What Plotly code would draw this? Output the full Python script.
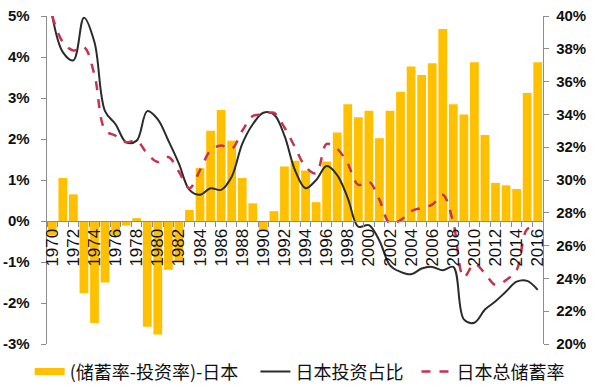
import plotly.graph_objects as go

years = [str(y) for y in range(1970, 2017)]

gap_pct = [-0.35, 1.05, 0.65, -1.76, -2.49, -1.5, -0.35, -0.11, 0.07, -2.58,
           -2.77, -1.19, -1.0, 0.27, 1.29, 2.2, 2.71, 1.96, 1.05, 0.43,
           -0.25, 0.24, 1.33, 1.47, 1.23, 0.46, 1.45, 2.16, 2.85, 2.53,
           2.69, 2.02, 2.69, 3.15, 3.77, 3.56, 3.85, 4.68, 2.85, 2.6,
           3.87, 2.1, 0.93, 0.87, 0.78, 3.12, 3.87]

invest_pct = [40.0, 37.8, 37.3, 39.9, 38.4, 34.2, 33.4, 32.3, 32.4, 34.2,
              33.7, 32.4, 31.0, 29.4, 29.1, 29.5, 29.4, 30.2, 32.2, 33.4,
              34.1, 34.0, 32.7, 30.6, 29.5, 30.0, 30.85, 30.3, 28.9, 27.15,
              27.25, 26.3, 24.8, 24.4, 24.25, 24.6, 24.7, 24.5, 24.7, 21.5,
              21.3, 22.1, 22.6, 23.2, 23.8, 23.85, 23.3]

saving_pct = [40.0, 38.4, 37.9, 38.1, 36.4, 33.05, 32.7, 32.3, 32.4, 31.6,
              31.1, 31.4, 30.5, 29.5, 30.6, 31.8, 32.1, 31.9, 33.0, 33.9,
              34.0, 34.1, 33.2, 32.0, 30.8, 30.4, 32.2, 31.9, 31.0, 29.7,
              29.9, 28.8, 27.35, 27.55, 28.1, 28.3, 28.5, 29.1, 27.4, 24.07,
              24.9, 24.3, 23.6, 23.9, 24.5, 27.0, 27.15]

left_ticks = [-3, -2, -1, 0, 1, 2, 3, 4, 5]
left_labels = ["-3%", "-2%", "-1%", "0%", "1%", "2%", "3%", "4%", "5%"]
right_ticks = [20, 22, 24, 26, 28, 30, 32, 34, 36, 38, 40]
right_labels = ["20%", "22%", "24%", "26%", "28%", "30%", "32%", "34%", "36%", "38%", "40%"]
year_labels = [y if (int(y) % 2 == 0) else "" for y in years]

NB = "\u00a0"
left_text = [s + NB * 2 for s in left_labels]
right_text = [NB + s for s in right_labels]

BAR_COL = "#FFC000"

fig = go.Figure()
fig.add_trace(go.Bar(x=years, y=gap_pct, name="(储蓄率-投资率)-日本", showlegend=False,
                     marker=dict(color=BAR_COL, line=dict(width=0)), yaxis="y"))
# legend swatch for the bars (wide rectangle like the original)
fig.add_trace(go.Scatter(x=[None], y=[None], name="(储蓄率-投资率)-日本" + NB * 3, mode="lines",
                         line=dict(color=BAR_COL, width=7), yaxis="y"))
fig.add_trace(go.Scatter(x=years, y=invest_pct, name="日本投资占比" + NB * 2, mode="lines",
                         line=dict(color="#2B2B2B", width=2, shape="spline"), yaxis="y2"))
fig.add_trace(go.Scatter(x=years, y=saving_pct, name="日本总储蓄率", mode="lines",
                         line=dict(color="#C8324F", width=2.5, dash="dash", shape="spline"), yaxis="y2"))

axis_col = "#8C8C8C"
fig.update_layout(
    width=600, height=387,
    margin=dict(l=47, r=57, t=16, b=43, autoexpand=False),
    paper_bgcolor="white", plot_bgcolor="white",
    bargap=0.17,
    showlegend=True,
    legend=dict(orientation="h", x=-0.035, xanchor="left", y=-0.085, yanchor="middle",
                font=dict(family="Noto Sans CJK SC", size=18, color="#111111"),
                itemwidth=30, tracegroupgap=0, bgcolor="rgba(0,0,0,0)"),
    xaxis=dict(type="category", range=[-0.5, 46.5], anchor="free", position=0.375,
               automargin=False, ticklabeloverflow="allow",
               tickmode="array", tickvals=years, ticktext=year_labels,
               tickangle=-90, tickson="boundaries", ticks="outside", ticklen=5,
               tickcolor=axis_col, showline=True, linecolor=axis_col, linewidth=1,
               showgrid=False, zeroline=False,
               tickfont=dict(family="Liberation Sans", size=17, color="#111111")),
    yaxis=dict(range=[-3, 5], tickmode="array", tickvals=left_ticks, ticktext=left_text,
               automargin=False, ticklabeloverflow="allow",
               showline=True, linecolor=axis_col, linewidth=1, ticks="outside", ticklen=5,
               tickcolor=axis_col, showgrid=False, zeroline=False,
               tickfont=dict(family="Liberation Sans", size=15, color="#111111", weight="bold")),
    yaxis2=dict(range=[20, 40], overlaying="y", side="right", tickmode="array",
                tickvals=right_ticks, ticktext=right_text, automargin=False,
                ticklabeloverflow="allow",
                showline=True, linecolor=axis_col, linewidth=1, ticks="outside", ticklen=5,
                tickcolor=axis_col, showgrid=False, zeroline=False,
                tickfont=dict(family="Liberation Sans", size=15, color="#111111", weight="bold")),
)

fig.write_html("out.html", config={"displayModeBar": False},
               post_script="document.body.style.margin='0';document.body.style.padding='0';")
